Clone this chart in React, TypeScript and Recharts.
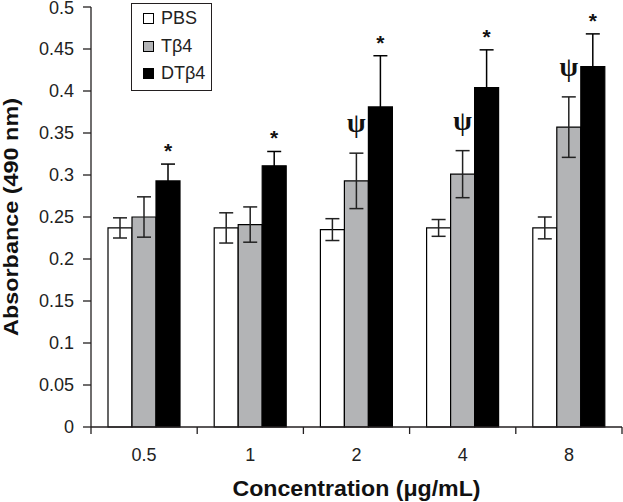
import React from "react";
import {
  BarChart,
  Bar,
  XAxis,
  YAxis,
  ErrorBar,
  LabelList,
} from "recharts";

const categories = ["0.5", "1", "2", "4", "8"];
const pbs = [0.237, 0.237, 0.235, 0.237, 0.237];
const pbsErr = [0.012, 0.018, 0.013, 0.01, 0.013];
const tb4 = [0.25, 0.241, 0.293, 0.301, 0.357];
const tb4Err = [0.024, 0.021, 0.033, 0.028, 0.036];
const dtb4 = [0.293, 0.311, 0.381, 0.404, 0.429];
const dtb4Err = [0.02, 0.017, 0.061, 0.045, 0.039];
const tb4Marks = ["", "", "ψ", "ψ", "ψ"];
const dtb4Marks = ["*", "*", "*", "*", "*"];
const yTicks = [0, 0.05, 0.1, 0.15, 0.2, 0.25, 0.3, 0.35, 0.4, 0.45, 0.5];

const seriesNames = ["PBS", "Tβ4", "DTβ4"];
const seriesFills = ["#ffffff", "#b3b4b6", "#000000"];

const data = categories.map((c, i) => ({
  conc: c,
  pbs: pbs[i],
  pbsErr: pbsErr[i],
  tb4: tb4[i],
  tb4Err: tb4Err[i],
  dtb4: dtb4[i],
  dtb4Err: dtb4Err[i],
  tb4Mark: tb4Marks[i],
  dtb4Mark: dtb4Marks[i],
}));

const FONT = "'Liberation Sans', Arial, sans-serif";
const AXIS = "#231f20";
const TICK = 7;
const TICK_MARGIN = 20;

function XTick(props: any) {
  const { x, y, payload } = props;
  const half = payload.offset ?? 53;
  const y0 = y - TICK - TICK_MARGIN;
  const last = payload.index === categories.length - 1;
  return (
    <g>
      <line x1={x - half} x2={x - half} y1={y0} y2={y0 + TICK} stroke={AXIS} strokeWidth={1.3} />
      {last && (
        <line x1={x + half} x2={x + half} y1={y0} y2={y0 + TICK} stroke={AXIS} strokeWidth={1.3} />
      )}
      <text x={x} y={y + 7} textAnchor="middle" fontFamily={FONT} fontSize={18} fill="#222">
        {payload.value}
      </text>
    </g>
  );
}

// y axis tick labels; the top one is nudged down a little so it stays on the page
function YTick(props: any) {
  const { x, y, payload } = props;
  const top = payload.value === yTicks[yTicks.length - 1];
  return (
    <text x={x} y={y + (top ? 7 : 6)} textAnchor="end" fontFamily={FONT} fontSize={18} fill="#222">
      {payload.value}
    </text>
  );
}

function mark(vals: number[], errs: number[], lift: number, font: string, size: number) {
  return (props: any) => {
    const { value, index } = props;
    if (!value) return null;
    const vb = props.viewBox || props;
    const pxPerUnit = vb.height / vals[index];
    const top = vb.y - errs[index] * pxPerUnit;
    return (
      <text
        x={vb.x + vb.width / 2}
        y={top - lift}
        textAnchor="middle"
        fontFamily={font}
        fontWeight="bold"
        fontSize={size}
        fill="#111"
      >
        {value}
      </text>
    );
  };
}

function LegendBox() {
  return (
    <div
      style={{
        position: "absolute",
        left: 131,
        top: 3,
        width: 81,
        boxSizing: "border-box",
        border: `1px solid ${AXIS}`,
        padding: "1px 0 2px 11px",
        fontFamily: FONT,
        fontSize: 18,
        color: "#222",
        background: "#fff",
      }}
    >
      {seriesNames.map((n, i) => (
        <div key={n} style={{ display: "flex", alignItems: "center", height: 27.5 }}>
          <span
            style={{
              display: "inline-block",
              width: 9,
              height: 9,
              border: "1px solid #000",
              background: seriesFills[i],
              marginRight: 7,
            }}
          />
          {n}
        </div>
      ))}
    </div>
  );
}

export default function App() {
  return (
    <div style={{ position: "absolute", left: 0, top: 0, width: 623, height: 502, background: "#fff" }}>
      <BarChart
        width={623}
        height={502}
        data={data}
        margin={{ top: 7, right: 1, left: 0, bottom: 0 }}
        barGap={0}
        barSize={24}
      >
        <XAxis
          dataKey="conc"
          height={75}
          stroke={AXIS}
          strokeWidth={1.3}
          tickLine={false}
          tickSize={TICK}
          tickMargin={TICK_MARGIN}
          tick={<XTick />}
          interval={0}
          label={{
            content: (p: any) => {
              const vb = p.viewBox;
              return (
                <text
                  x={vb.x + vb.width / 2}
                  y={vb.y + 69}
                  textAnchor="middle"
                  fontFamily={FONT}
                  fontWeight="bold"
                  fontSize={22}
                  textLength={248}
                  lengthAdjust="spacingAndGlyphs"
                  fill="#111"
                >
                  Concentration (μg/mL)
                </text>
              );
            },
          }}
        />
        <YAxis
          width={91}
          domain={[0, 0.5]}
          ticks={yTicks}
          interval={0}
          stroke={AXIS}
          strokeWidth={1.3}
          tickSize={8}
          tickMargin={9}
          tick={<YTick />}
          label={{
            content: (p: any) => {
              const vb = p.viewBox;
              const cx = vb.x + 17.5;
              const cy = vb.y + vb.height / 2;
              return (
                <text
                  x={cx}
                  y={cy}
                  transform={`rotate(-90 ${cx} ${cy})`}
                  textAnchor="middle"
                  fontFamily={FONT}
                  fontWeight="bold"
                  fontSize={21}
                  textLength={238}
                  lengthAdjust="spacingAndGlyphs"
                  fill="#111"
                >
                  Absorbance (490 nm)
                </text>
              );
            },
          }}
        />
        <Bar dataKey="pbs" name="PBS" fill={seriesFills[0]} stroke="#000" strokeWidth={1.2} isAnimationActive={false}>
          <ErrorBar dataKey="pbsErr" width={7} stroke="#222" strokeWidth={1.5} direction="y" />
        </Bar>
        <Bar dataKey="tb4" name="Tβ4" fill={seriesFills[1]} stroke="#000" strokeWidth={1.2} isAnimationActive={false}>
          <ErrorBar dataKey="tb4Err" width={7} stroke="#222" strokeWidth={1.5} direction="y" />
          <LabelList dataKey="tb4Mark" content={mark(tb4, tb4Err, 21, "'Liberation Serif', 'Times New Roman', serif", 27)} />
        </Bar>
        <Bar dataKey="dtb4" name="DTβ4" fill={seriesFills[2]} stroke="#000" strokeWidth={1.2} isAnimationActive={false}>
          <ErrorBar dataKey="dtb4Err" width={7} stroke="#000" strokeWidth={1.5} direction="y" />
          <LabelList dataKey="dtb4Mark" content={mark(dtb4, dtb4Err, 6, FONT, 21)} />
        </Bar>
      </BarChart>
      <LegendBox />
    </div>
  );
}
